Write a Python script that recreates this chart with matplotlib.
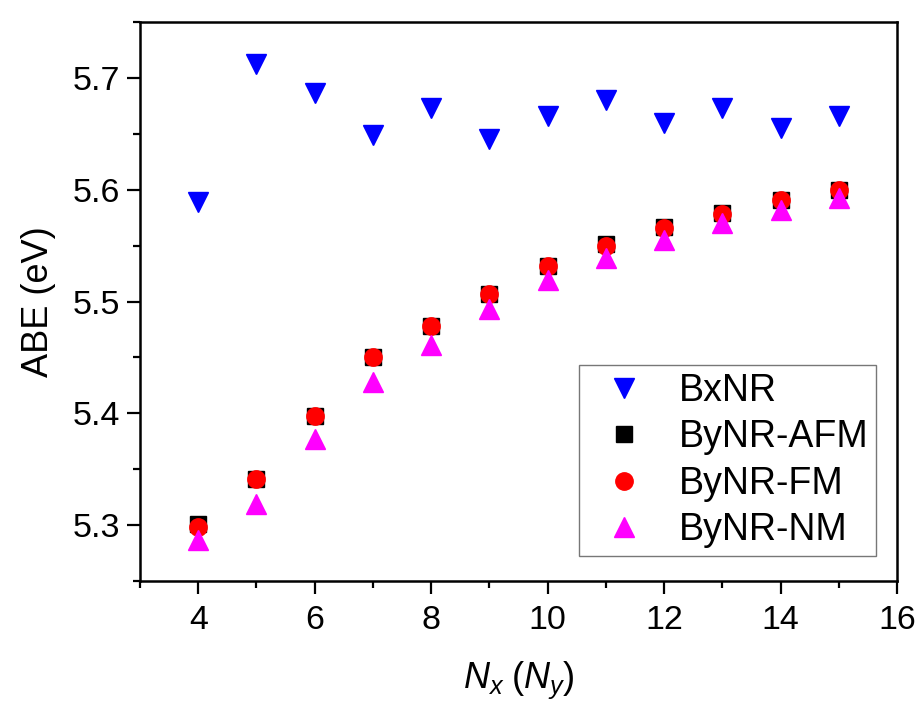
import matplotlib
matplotlib.use('Agg')
import matplotlib.pyplot as plt
from matplotlib.ticker import MultipleLocator

plt.rcParams['font.family'] = ['Liberation Sans', 'DejaVu Sans']
plt.rcParams['mathtext.fontset'] = 'custom'
plt.rcParams['mathtext.it'] = 'Liberation Sans:italic'
plt.rcParams['mathtext.rm'] = 'Liberation Sans'

# ===== data =====
n_sites = [4, 5, 6, 7, 8, 9, 10, 11, 12, 13, 14, 15]
abe_bx = [5.589, 5.712, 5.686, 5.649, 5.673, 5.645, 5.666, 5.680, 5.660, 5.673, 5.655, 5.666]
abe_by_afm = [5.301, 5.341, 5.398, 5.450, 5.478, 5.507, 5.532, 5.551, 5.567, 5.579, 5.591, 5.600]
abe_by_fm = [5.298, 5.341, 5.398, 5.450, 5.478, 5.507, 5.532, 5.550, 5.566, 5.578, 5.591, 5.600]
abe_by_nm = [5.287, 5.319, 5.377, 5.428, 5.461, 5.493, 5.519, 5.539, 5.555, 5.570, 5.582, 5.593]

fig = plt.figure(figsize=(9.21, 7.07), dpi=100)
ax = fig.add_axes([0.152, 0.178, 0.822, 0.791])

ax.plot(n_sites, abe_bx, ls='none', marker='v', ms=15, color='#0000ff', label='BxNR')
ax.plot(n_sites, abe_by_afm, ls='none', marker='s', ms=11.5, color='black', label='ByNR-AFM')
ax.plot(n_sites, abe_by_fm, ls='none', marker='o', ms=12.5, color='#ff0000', label='ByNR-FM')
ax.plot(n_sites, abe_by_nm, ls='none', marker='^', ms=15, color='#ff00ff', label='ByNR-NM')

ax.set_xlim(3, 16)
ax.set_ylim(5.25, 5.75)
ax.xaxis.set_major_locator(MultipleLocator(2))
ax.xaxis.set_minor_locator(MultipleLocator(1))
ax.yaxis.set_minor_locator(MultipleLocator(0.05))
ax.set_yticks([5.3, 5.4, 5.5, 5.6, 5.7])

ax.tick_params(which='both', direction='out', top=False, right=False, width=1.6, labelsize=24.5)
ax.tick_params(which='major', length=9.5)
ax.tick_params(which='minor', length=5)
ax.tick_params(axis='x', which='major', pad=8)
ax.tick_params(axis='y', which='major', pad=5)
for sp in ax.spines.values():
    sp.set_linewidth(1.8)

ax.set_xlabel(r'$N_x\;(N_y)$', fontsize=26, labelpad=17)
ax.set_ylabel('ABE (eV)', fontsize=26, labelpad=12)

leg = ax.legend(loc='lower right', bbox_to_anchor=(0.972, 0.045), fontsize=27,
                frameon=True, fancybox=False, edgecolor='#555555', borderpad=0.2,
                handletextpad=0.45, handlelength=2.0, labelspacing=0.28, borderaxespad=0)
leg.get_frame().set_linewidth(1.0)

fig.savefig('out.png', dpi=100, facecolor='white')
